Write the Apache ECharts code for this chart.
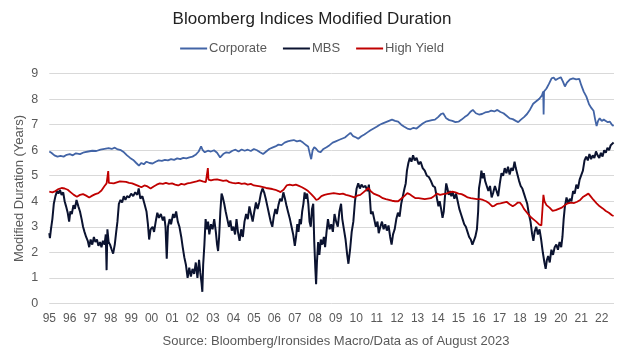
<!DOCTYPE html>
<html>
<head>
<meta charset="utf-8">
<script src="https://cdn.jsdelivr.net/npm/echarts@6/dist/echarts.min.js"></script>
<style>
  html, body { margin: 0; padding: 0; background: #fff; }
  #chart { width: 624px; height: 354px; }
</style>
</head>
<body>
<div id="chart"></div>
<script>
// x axis runs in decimal years, labels show the two-digit year
const xStart = 1995;
const xEnd = 2022.6;
const yTicks = [0, 1, 2, 3, 4, 5, 6, 7, 8, 9];
const seriesNames = ['Corporate', 'MBS', 'High Yield'];

// [year, modified duration]
const corporate = [
  [1995.0, 5.95], [1995.1, 5.9], [1995.25, 5.8], [1995.4, 5.75], [1995.55, 5.78], [1995.7, 5.75], [1995.85, 5.82],
  [1996.0, 5.85], [1996.15, 5.8], [1996.3, 5.88], [1996.5, 5.85], [1996.7, 5.92], [1996.9, 5.95], [1997.1, 5.98],
  [1997.3, 5.97], [1997.5, 6.02], [1997.7, 6.05], [1997.9, 6.08], [1998.05, 6.05], [1998.2, 6.1], [1998.35, 6.03],
  [1998.5, 6.0], [1998.65, 5.92], [1998.8, 5.8], [1998.95, 5.7], [1999.1, 5.62], [1999.25, 5.5], [1999.38, 5.4],
  [1999.5, 5.5], [1999.62, 5.45], [1999.75, 5.55], [1999.9, 5.5], [2000.05, 5.48], [2000.2, 5.55], [2000.35, 5.6],
  [2000.5, 5.58], [2000.65, 5.62], [2000.8, 5.6], [2000.95, 5.65], [2001.1, 5.62], [2001.25, 5.68], [2001.4, 5.65],
  [2001.55, 5.7], [2001.7, 5.68], [2001.85, 5.72], [2002.0, 5.75], [2002.15, 5.82], [2002.3, 5.95], [2002.42, 6.15],
  [2002.5, 6.0], [2002.6, 5.92], [2002.75, 5.98], [2002.9, 5.95], [2003.05, 6.0], [2003.2, 5.9], [2003.35, 5.72],
  [2003.5, 5.85], [2003.65, 5.92], [2003.8, 5.9], [2003.95, 5.98], [2004.1, 6.02], [2004.25, 5.95], [2004.4, 6.03],
  [2004.55, 5.98], [2004.7, 6.02], [2004.85, 5.97], [2005.0, 6.05], [2005.15, 6.0], [2005.3, 5.92], [2005.45, 5.85],
  [2005.6, 5.95], [2005.75, 6.05], [2005.9, 6.1], [2006.05, 6.15], [2006.2, 6.22], [2006.35, 6.2], [2006.5, 6.3],
  [2006.65, 6.35], [2006.8, 6.38], [2006.95, 6.4], [2007.1, 6.35], [2007.25, 6.38], [2007.4, 6.3], [2007.55, 6.2],
  [2007.65, 6.15], [2007.75, 5.8], [2007.8, 5.65], [2007.87, 6.0], [2007.95, 6.12], [2008.05, 6.05], [2008.15, 5.95],
  [2008.25, 5.92], [2008.4, 6.05], [2008.55, 6.12], [2008.7, 6.2], [2008.85, 6.3], [2009.0, 6.35], [2009.15, 6.4],
  [2009.3, 6.45], [2009.45, 6.5], [2009.6, 6.6], [2009.72, 6.68], [2009.85, 6.55], [2010.0, 6.5], [2010.1, 6.45],
  [2010.25, 6.55], [2010.4, 6.62], [2010.55, 6.7], [2010.7, 6.78], [2010.85, 6.85], [2011.0, 6.92], [2011.15, 7.0],
  [2011.3, 7.05], [2011.45, 7.1], [2011.6, 7.15], [2011.75, 7.2], [2011.9, 7.15], [2012.05, 7.12], [2012.2, 7.0],
  [2012.35, 6.92], [2012.5, 6.85], [2012.65, 6.82], [2012.8, 6.88], [2012.95, 6.85], [2013.1, 6.95], [2013.25, 7.05],
  [2013.4, 7.12], [2013.55, 7.15], [2013.7, 7.18], [2013.85, 7.2], [2014.0, 7.3], [2014.15, 7.42], [2014.25, 7.45],
  [2014.4, 7.25], [2014.55, 7.18], [2014.7, 7.15], [2014.85, 7.1], [2015.0, 7.12], [2015.15, 7.2], [2015.3, 7.3],
  [2015.45, 7.38], [2015.6, 7.52], [2015.7, 7.58], [2015.85, 7.45], [2016.0, 7.4], [2016.15, 7.42], [2016.3, 7.48],
  [2016.45, 7.5], [2016.6, 7.55], [2016.75, 7.52], [2016.9, 7.58], [2017.05, 7.5], [2017.2, 7.45], [2017.35, 7.35],
  [2017.5, 7.25], [2017.65, 7.22], [2017.8, 7.15], [2017.92, 7.1], [2018.05, 7.2], [2018.2, 7.3], [2018.35, 7.42],
  [2018.5, 7.6], [2018.65, 7.82], [2018.8, 7.92], [2018.95, 8.02], [2019.08, 8.15], [2019.14, 8.3], [2019.16, 7.4],
  [2019.18, 8.3], [2019.3, 8.42], [2019.42, 8.6], [2019.55, 8.82], [2019.65, 8.85], [2019.75, 8.75], [2019.85, 8.8],
  [2020.0, 8.86], [2020.1, 8.7], [2020.2, 8.5], [2020.3, 8.65], [2020.45, 8.78], [2020.6, 8.82], [2020.75, 8.78],
  [2020.9, 8.8], [2021.0, 8.55], [2021.12, 8.3], [2021.25, 8.1], [2021.38, 7.8], [2021.5, 7.65], [2021.6, 7.55],
  [2021.68, 7.2], [2021.75, 6.95], [2021.82, 7.15], [2021.9, 7.25], [2022.0, 7.15], [2022.1, 7.2], [2022.2, 7.15],
  [2022.3, 7.1], [2022.4, 7.12], [2022.5, 7.0], [2022.58, 6.95]
];

const mbs = [
  [1995.0, 2.75], [1995.03, 2.55], [1995.08, 2.9], [1995.15, 3.3], [1995.22, 3.9], [1995.3, 4.2], [1995.38, 4.4],
  [1995.45, 4.3], [1995.52, 4.45], [1995.6, 4.25], [1995.68, 4.35], [1995.75, 4.0], [1995.82, 3.8], [1995.9, 3.55],
  [1995.97, 3.2], [1996.03, 3.6], [1996.1, 3.5], [1996.18, 3.85], [1996.25, 3.7], [1996.33, 4.05], [1996.42, 3.8],
  [1996.5, 3.6], [1996.58, 3.3], [1996.65, 3.0], [1996.72, 2.8], [1996.8, 2.6], [1996.88, 2.45], [1996.95, 2.2],
  [1997.02, 2.5], [1997.1, 2.3], [1997.18, 2.6], [1997.25, 2.4], [1997.33, 2.5], [1997.4, 2.25], [1997.48, 2.4],
  [1997.55, 2.2], [1997.62, 2.45], [1997.7, 2.3], [1997.76, 2.7], [1997.8, 1.3], [1997.84, 2.9], [1997.9, 2.4],
  [1997.97, 2.3], [1998.05, 2.1], [1998.12, 1.95], [1998.2, 2.3], [1998.27, 2.8], [1998.33, 3.2], [1998.4, 3.9],
  [1998.48, 4.05], [1998.56, 3.95], [1998.64, 4.2], [1998.72, 4.05], [1998.8, 4.2], [1998.9, 4.15], [1999.0, 4.3],
  [1999.1, 4.2], [1999.2, 4.35], [1999.3, 4.25], [1999.37, 4.5], [1999.45, 4.1], [1999.55, 4.2], [1999.65, 3.9],
  [1999.75, 3.6], [1999.82, 3.1], [1999.88, 2.5], [1999.95, 2.9], [2000.05, 3.0], [2000.12, 2.8], [2000.2, 3.2],
  [2000.28, 3.55], [2000.36, 3.35], [2000.45, 3.5], [2000.55, 3.25], [2000.62, 3.4], [2000.68, 3.0], [2000.74, 1.75],
  [2000.8, 3.0], [2000.88, 3.3], [2000.95, 3.1], [2001.05, 3.5], [2001.12, 3.35], [2001.2, 3.6], [2001.28, 3.2],
  [2001.36, 3.0], [2001.45, 2.6], [2001.52, 2.2], [2001.6, 1.8], [2001.68, 1.5], [2001.76, 1.0], [2001.84, 1.4],
  [2001.92, 1.05], [2002.0, 1.35], [2002.08, 1.15], [2002.16, 1.6], [2002.24, 1.0], [2002.32, 1.7], [2002.38, 1.2],
  [2002.44, 0.8], [2002.48, 0.45], [2002.52, 1.5], [2002.58, 2.3], [2002.64, 3.3], [2002.7, 2.9], [2002.76, 3.2],
  [2002.82, 2.7], [2002.9, 3.1], [2002.98, 2.9], [2003.06, 3.3], [2003.14, 2.8], [2003.2, 2.3], [2003.25, 2.05],
  [2003.3, 2.6], [2003.36, 3.6], [2003.42, 4.3], [2003.48, 4.15], [2003.55, 3.9], [2003.62, 3.6], [2003.7, 3.3],
  [2003.78, 3.0], [2003.85, 3.25], [2003.92, 2.85], [2004.0, 3.0], [2004.08, 2.7], [2004.15, 3.3], [2004.22, 2.8],
  [2004.3, 2.45], [2004.38, 2.9], [2004.46, 2.6], [2004.54, 3.2], [2004.62, 3.5], [2004.7, 3.3], [2004.78, 3.8],
  [2004.86, 3.5], [2004.94, 3.2], [2005.02, 3.6], [2005.1, 3.95], [2005.18, 3.7], [2005.26, 3.95], [2005.34, 4.3],
  [2005.42, 4.5], [2005.5, 4.35], [2005.58, 4.1], [2005.66, 3.8], [2005.74, 3.5], [2005.82, 3.2], [2005.9, 3.0],
  [2005.97, 3.4], [2006.05, 3.7], [2006.12, 3.5], [2006.2, 3.85], [2006.28, 4.1], [2006.36, 4.0], [2006.44, 4.35],
  [2006.52, 4.1], [2006.6, 3.8], [2006.68, 3.55], [2006.76, 3.3], [2006.84, 3.0], [2006.92, 2.7], [2007.0, 2.25],
  [2007.06, 2.6], [2007.12, 3.1], [2007.18, 2.8], [2007.24, 3.3], [2007.3, 3.1], [2007.36, 3.6], [2007.42, 3.9],
  [2007.48, 4.35], [2007.54, 4.1], [2007.6, 4.3], [2007.66, 3.9], [2007.72, 3.2], [2007.78, 3.0], [2007.84, 3.7],
  [2007.9, 3.9], [2007.95, 2.4], [2008.0, 1.4], [2008.04, 0.75], [2008.08, 1.6], [2008.14, 2.4], [2008.2, 1.9],
  [2008.27, 2.5], [2008.34, 2.3], [2008.42, 2.6], [2008.48, 2.2], [2008.55, 2.8], [2008.62, 3.3], [2008.7, 2.9],
  [2008.78, 3.1], [2008.86, 2.8], [2008.94, 3.5], [2009.02, 3.2], [2009.1, 3.0], [2009.18, 3.6], [2009.26, 3.9],
  [2009.32, 3.3], [2009.4, 2.9], [2009.48, 2.5], [2009.56, 1.9], [2009.62, 1.55], [2009.7, 2.1], [2009.78, 2.8],
  [2009.86, 3.2], [2009.94, 4.0], [2010.02, 4.5], [2010.1, 4.7], [2010.18, 4.5], [2010.26, 4.65], [2010.35, 4.55],
  [2010.45, 4.6], [2010.55, 4.4], [2010.62, 4.65], [2010.68, 4.0], [2010.72, 3.5], [2010.8, 3.6], [2010.88, 3.3],
  [2010.96, 3.0], [2011.04, 3.2], [2011.1, 2.75], [2011.18, 3.0], [2011.26, 3.2], [2011.34, 2.9], [2011.42, 3.1],
  [2011.5, 2.85], [2011.58, 3.05], [2011.66, 2.6], [2011.73, 2.3], [2011.8, 2.7], [2011.88, 2.9], [2011.96, 3.3],
  [2012.04, 3.55], [2012.12, 3.4], [2012.2, 3.9], [2012.28, 4.2], [2012.36, 4.5], [2012.42, 4.7], [2012.48, 5.2],
  [2012.55, 5.5], [2012.62, 5.7], [2012.7, 5.55], [2012.78, 5.8], [2012.86, 5.6], [2012.95, 5.7], [2013.05, 5.45],
  [2013.15, 5.55], [2013.25, 5.3], [2013.35, 5.2], [2013.45, 5.0], [2013.55, 4.95], [2013.65, 4.8], [2013.75, 4.6],
  [2013.85, 4.55], [2013.95, 4.1], [2014.02, 3.8], [2014.08, 4.0], [2014.15, 3.7], [2014.22, 3.35], [2014.28, 3.6],
  [2014.34, 4.2], [2014.4, 4.7], [2014.46, 4.5], [2014.52, 4.25], [2014.58, 4.4], [2014.65, 4.2], [2014.72, 4.35],
  [2014.8, 4.1], [2014.88, 4.3], [2014.96, 4.0], [2015.04, 3.7], [2015.12, 3.5], [2015.2, 3.3], [2015.28, 3.1],
  [2015.36, 3.0], [2015.44, 2.8], [2015.52, 2.6], [2015.6, 2.5], [2015.68, 2.3], [2015.75, 2.35], [2015.82, 2.6],
  [2015.9, 2.9], [2015.96, 3.6], [2016.0, 4.5], [2016.06, 4.8], [2016.12, 5.2], [2016.18, 4.9], [2016.24, 5.1],
  [2016.3, 4.8], [2016.38, 4.6], [2016.46, 4.4], [2016.54, 4.6], [2016.62, 4.15], [2016.7, 4.35], [2016.78, 4.6],
  [2016.86, 4.4], [2016.94, 4.2], [2017.02, 4.7], [2017.1, 5.1], [2017.18, 5.0], [2017.26, 5.3], [2017.34, 5.1],
  [2017.42, 5.35], [2017.5, 5.05], [2017.58, 5.3], [2017.66, 5.2], [2017.74, 5.55], [2017.8, 5.3], [2017.88, 5.05],
  [2017.96, 4.8], [2018.04, 4.6], [2018.12, 4.5], [2018.2, 4.3], [2018.28, 4.1], [2018.36, 3.9], [2018.44, 3.5],
  [2018.52, 3.2], [2018.6, 2.7], [2018.66, 2.45], [2018.72, 2.8], [2018.8, 3.0], [2018.88, 2.7], [2018.96, 2.9],
  [2019.04, 2.5], [2019.12, 2.0], [2019.2, 1.6], [2019.26, 1.35], [2019.32, 1.7], [2019.38, 1.85], [2019.46, 1.6],
  [2019.54, 2.1], [2019.62, 1.9], [2019.7, 2.2], [2019.78, 2.3], [2019.86, 2.1], [2019.94, 2.4], [2020.02, 2.2],
  [2020.08, 2.6], [2020.14, 3.3], [2020.2, 3.8], [2020.28, 4.15], [2020.36, 3.9], [2020.44, 4.1], [2020.52, 4.0],
  [2020.6, 4.4], [2020.68, 4.3], [2020.76, 4.65], [2020.84, 4.5], [2020.92, 4.85], [2021.0, 4.8], [2021.08, 5.2],
  [2021.16, 5.6], [2021.24, 5.75], [2021.32, 5.6], [2021.4, 5.85], [2021.48, 5.65], [2021.56, 5.8], [2021.64, 5.7],
  [2021.72, 5.95], [2021.8, 5.8], [2021.88, 5.7], [2021.96, 5.9], [2022.04, 5.75], [2022.12, 6.0], [2022.2, 5.9],
  [2022.28, 6.1], [2022.36, 6.0], [2022.44, 6.2], [2022.52, 6.15], [2022.58, 6.3]
];

const highYield = [
  [1995.0, 4.38], [1995.15, 4.35], [1995.3, 4.4], [1995.45, 4.48], [1995.6, 4.52], [1995.75, 4.5], [1995.9, 4.45],
  [1996.05, 4.35], [1996.2, 4.25], [1996.35, 4.18], [1996.5, 4.25], [1996.65, 4.28], [1996.8, 4.22], [1996.95, 4.15],
  [1997.1, 4.22], [1997.25, 4.28], [1997.4, 4.32], [1997.55, 4.42], [1997.7, 4.6], [1997.8, 4.7], [1997.85, 4.65],
  [1997.88, 5.18], [1997.91, 4.72], [1998.0, 4.65], [1998.15, 4.7], [1998.3, 4.74], [1998.45, 4.78], [1998.6, 4.77],
  [1998.75, 4.76], [1998.9, 4.72], [1999.05, 4.7], [1999.2, 4.65], [1999.35, 4.6], [1999.5, 4.55], [1999.65, 4.62],
  [1999.8, 4.58], [1999.95, 4.5], [2000.1, 4.58], [2000.25, 4.65], [2000.4, 4.7], [2000.55, 4.68], [2000.7, 4.72],
  [2000.85, 4.68], [2001.0, 4.7], [2001.15, 4.65], [2001.3, 4.62], [2001.45, 4.68], [2001.6, 4.65], [2001.75, 4.7],
  [2001.9, 4.72], [2002.05, 4.75], [2002.2, 4.78], [2002.35, 4.82], [2002.5, 4.78], [2002.65, 4.75], [2002.72, 4.8],
  [2002.75, 5.3], [2002.78, 4.85], [2002.9, 4.82], [2003.05, 4.85], [2003.2, 4.86], [2003.35, 4.83], [2003.5, 4.8],
  [2003.65, 4.82], [2003.8, 4.75], [2003.95, 4.72], [2004.1, 4.7], [2004.25, 4.72], [2004.4, 4.68], [2004.55, 4.7],
  [2004.7, 4.65], [2004.85, 4.68], [2005.0, 4.62], [2005.15, 4.6], [2005.3, 4.58], [2005.45, 4.55], [2005.6, 4.52],
  [2005.75, 4.5], [2005.9, 4.48], [2006.05, 4.45], [2006.2, 4.4], [2006.3, 4.36], [2006.45, 4.45], [2006.6, 4.62],
  [2006.75, 4.65], [2006.9, 4.62], [2007.05, 4.65], [2007.2, 4.6], [2007.35, 4.55], [2007.5, 4.48], [2007.65, 4.4],
  [2007.8, 4.28], [2007.95, 4.15], [2008.05, 4.05], [2008.15, 4.08], [2008.3, 4.2], [2008.45, 4.25], [2008.6, 4.28],
  [2008.75, 4.3], [2008.9, 4.32], [2009.05, 4.3], [2009.2, 4.28], [2009.35, 4.3], [2009.5, 4.25], [2009.65, 4.22],
  [2009.8, 4.18], [2009.9, 4.15], [2010.05, 4.22], [2010.2, 4.25], [2010.35, 4.35], [2010.5, 4.45], [2010.6, 4.52],
  [2010.7, 4.4], [2010.85, 4.3], [2011.0, 4.25], [2011.15, 4.2], [2011.3, 4.12], [2011.45, 4.08], [2011.6, 4.05],
  [2011.75, 4.02], [2011.9, 4.0], [2012.05, 4.0], [2012.2, 4.1], [2012.35, 4.2], [2012.5, 4.32], [2012.6, 4.28],
  [2012.75, 4.2], [2012.9, 4.12], [2013.05, 4.12], [2013.2, 4.1], [2013.35, 4.08], [2013.5, 4.1], [2013.65, 4.12],
  [2013.8, 4.2], [2013.95, 4.3], [2014.1, 4.25], [2014.25, 4.28], [2014.4, 4.3], [2014.55, 4.35], [2014.7, 4.38],
  [2014.85, 4.35], [2015.0, 4.3], [2015.15, 4.28], [2015.3, 4.22], [2015.45, 4.15], [2015.6, 4.12], [2015.75, 4.1],
  [2015.9, 4.08], [2016.05, 4.08], [2016.2, 4.05], [2016.35, 4.0], [2016.5, 3.92], [2016.65, 3.8], [2016.75, 3.82],
  [2016.9, 3.9], [2017.05, 3.92], [2017.2, 3.95], [2017.35, 3.98], [2017.5, 3.88], [2017.65, 3.8], [2017.75, 3.85],
  [2017.9, 3.95], [2018.0, 3.95], [2018.1, 3.85], [2018.2, 3.7], [2018.35, 3.55], [2018.5, 3.4], [2018.65, 3.3],
  [2018.8, 3.2], [2018.95, 3.08], [2019.05, 3.05], [2019.13, 3.03], [2019.15, 4.25], [2019.2, 4.0], [2019.3, 3.85],
  [2019.45, 3.75], [2019.6, 3.62], [2019.75, 3.65], [2019.9, 3.7], [2020.05, 3.75], [2020.2, 3.85], [2020.35, 3.92],
  [2020.5, 3.95], [2020.65, 3.93], [2020.8, 3.98], [2020.95, 4.05], [2021.1, 4.18], [2021.25, 4.25], [2021.35, 4.3],
  [2021.45, 4.2], [2021.6, 4.05], [2021.75, 3.92], [2021.9, 3.8], [2022.05, 3.72], [2022.2, 3.62], [2022.35, 3.55],
  [2022.5, 3.45], [2022.58, 3.42]
];

const colors = ['#4264a6', '#0b1330', '#c00000'];
const font = '"Liberation Sans", Arial, sans-serif';
const grey = '#595959';

const chart = echarts.init(document.getElementById('chart'));

chart.setOption({
  animation: false,
  color: colors,
  textStyle: { fontFamily: font },
  title: [
    {
      text: 'Bloomberg Indices Modified Duration',
      left: 'center',
      top: 6,
      textStyle: { fontSize: 17, fontWeight: 'normal', color: '#222', fontFamily: font }
    },
    {
      text: 'Source: Bloomberg/Ironsides Macro/Data as of August 2023',
      left: 331,
      textAlign: 'center',
      top: 330,
      textStyle: { fontSize: 13, fontWeight: 'normal', color: grey, fontFamily: font }
    }
  ],
  legend: {
    top: 37,
    left: 'center',
    icon: 'rect',
    itemWidth: 27,
    itemHeight: 2,
    itemGap: 16,
    textStyle: { fontSize: 13, color: grey, fontFamily: font, padding: [0, 0, 0, -3] },
    data: seriesNames
  },
  grid: { left: 49.3, right: 10, top: 73.7, bottom: 50.7, containLabel: false },
  xAxis: {
    type: 'value',
    min: xStart,
    max: xEnd,
    interval: 1,
    axisLine: { show: false },
    axisTick: { show: false },
    splitLine: { show: false },
    axisLabel: {
      fontSize: 12,
      color: grey,
      margin: 9,
      showMaxLabel: false,
      formatter: function (v) {
        return Number.isInteger(v) ? String(v).slice(2) : '';
      }
    }
  },
  yAxis: {
    type: 'value',
    min: yTicks[0],
    max: yTicks[yTicks.length - 1],
    interval: 1,
    name: 'Modified Duration (Years)',
    nameLocation: 'middle',
    nameGap: 23,
    nameMoveOverlap: false,
    nameTextStyle: { fontSize: 13, color: grey, fontFamily: font },
    axisLine: { show: false },
    axisTick: { show: false },
    axisLabel: { fontSize: 12.5, color: grey, margin: 11 },
    splitLine: { lineStyle: { color: '#d9d9d9', width: 1 } }
  },
  series: [
    { name: seriesNames[0], type: 'line', data: corporate, showSymbol: false, lineStyle: { width: 1.8 } },
    { name: seriesNames[1], type: 'line', data: mbs, showSymbol: false, lineStyle: { width: 2 } },
    { name: seriesNames[2], type: 'line', data: highYield, showSymbol: false, lineStyle: { width: 1.8 } }
  ]
});
</script>
</body>
</html>
